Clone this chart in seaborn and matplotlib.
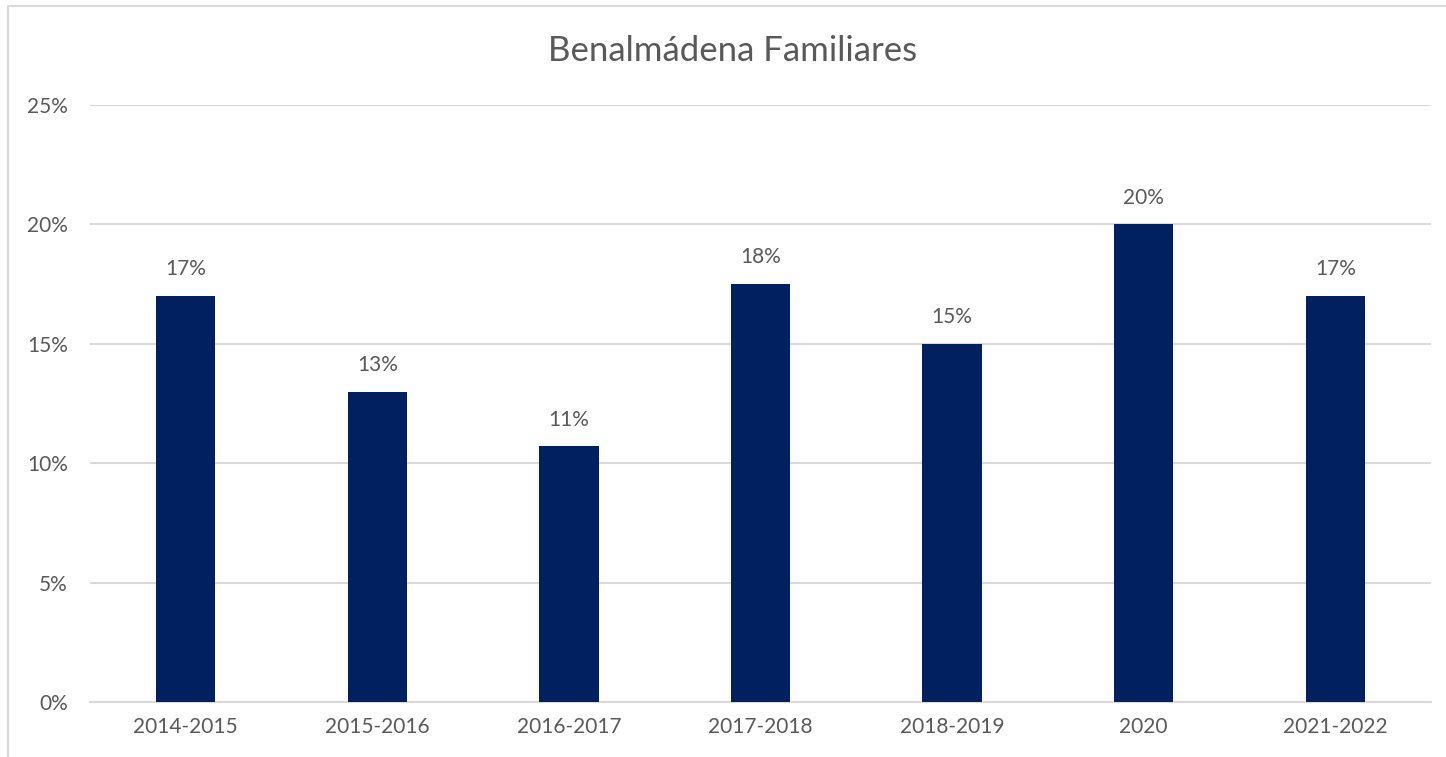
import matplotlib
matplotlib.use("Agg")
import matplotlib.pyplot as plt
import seaborn as sns
import pandas as pd
from matplotlib.patches import Rectangle
from matplotlib.ticker import PercentFormatter

# data
seasons = ['2014-2015', '2015-2016', '2016-2017', '2017-2018', '2018-2019', '2020', '2021-2022']
share = [0.170, 0.130, 0.107, 0.175, 0.150, 0.200, 0.170]

df = pd.DataFrame({'season': seasons, 'share': share})

sns.set_theme(style='white')
plt.rcParams['font.family'] = ['Lato', 'DejaVu Sans']

grey_txt = '#595959'
grid_col = '#d9d9d9'
bar_col = '#002060'

fig = plt.figure(figsize=(14.46, 7.57), dpi=100)
ax = fig.add_axes([90 / 1446, 1 - 702 / 757, (1431 - 90) / 1446, (702 - 105) / 757])

sns.barplot(data=df, x='season', y='share', color=bar_col, width=0.31,
            saturation=1, linewidth=0, ax=ax, zorder=3)

ax.set_ylim(0, 0.25)
ax.set_yticks([0, 0.05, 0.10, 0.15, 0.20, 0.25])
ax.yaxis.set_major_formatter(PercentFormatter(1.0, decimals=0))
ax.grid(axis='y', color=grid_col, linewidth=1.5, zorder=0)
ax.set_axisbelow(True)
for s in ['top', 'right', 'left']:
    ax.spines[s].set_visible(False)
ax.spines['bottom'].set_color(grid_col)
ax.spines['bottom'].set_linewidth(1.5)
ax.tick_params(axis='both', length=0, labelsize=15, labelcolor=grey_txt)
ax.tick_params(axis='x', pad=11)
ax.tick_params(axis='y', pad=16)
ax.set_xlabel('')
ax.set_ylabel('')

for p, v in zip(ax.patches, share):
    ax.annotate(f'{round(v * 100):.0f}%', (p.get_x() + p.get_width() / 2, v),
                xytext=(0, 12), textcoords='offset points', ha='center', va='bottom',
                fontsize=15, color=grey_txt)

fig.text(733 / 1446, 1 - 51 / 757, 'Benalmádena Familiares', ha='center', va='center',
         fontsize=25, color=grey_txt)

# chart frame (only top and left visible in the crop)
fig.patches.append(Rectangle((8 / 1446, -0.05), 1.2, 1 - 6 / 757 + 0.05,
                             transform=fig.transFigure, fill=False,
                             edgecolor=grid_col, linewidth=1.5))

fig.savefig('out.png', dpi=100)
